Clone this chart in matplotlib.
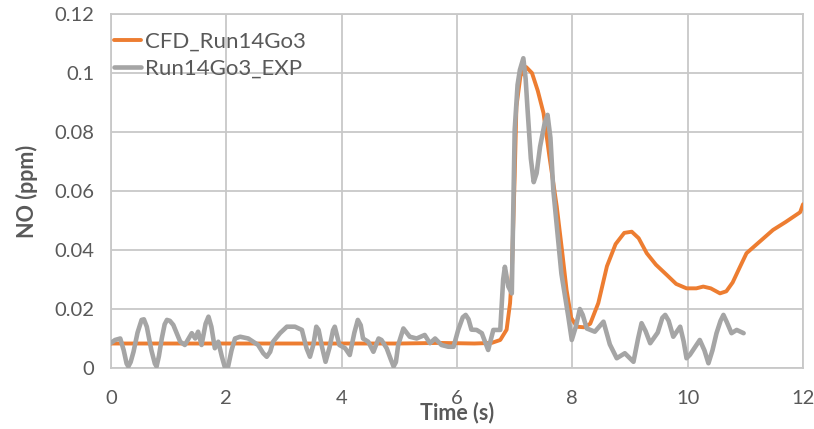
import matplotlib.pyplot as plt

# CFD prediction
cfd_t = [0, 1, 2, 3, 4, 5, 5.7, 6.3, 6.6, 6.75, 6.86, 6.92, 6.95, 7.0, 7.03, 7.1,
         7.2, 7.3, 7.4, 7.5, 7.6, 7.73, 7.82, 7.9, 7.98, 8.08, 8.2, 8.31, 8.45,
         8.6, 8.75, 8.9, 9.03, 9.15, 9.29, 9.45, 9.64, 9.8, 9.98, 10.15, 10.27,
         10.4, 10.56, 10.67, 10.78, 10.9, 11.02, 11.2, 11.48, 11.7, 11.95, 12]
cfd_no = [0.0083, 0.0083, 0.0083, 0.0083, 0.0083, 0.0083, 0.0085, 0.0083, 0.0085,
          0.0095, 0.013, 0.022, 0.032, 0.065, 0.0886, 0.099, 0.102, 0.100, 0.094,
          0.0864, 0.072, 0.0547, 0.040, 0.0264, 0.017, 0.014, 0.0138, 0.015, 0.022,
          0.0345, 0.042, 0.0458, 0.0462, 0.044, 0.0389, 0.035, 0.0315, 0.0285,
          0.027, 0.027, 0.0276, 0.027, 0.0253, 0.026, 0.029, 0.034, 0.0389, 0.042,
          0.0468, 0.0495, 0.0528, 0.0555]

# measured
exp_t = [0.0, 0.07, 0.16, 0.22, 0.27, 0.30, 0.34, 0.39, 0.46, 0.53, 0.57, 0.62,
         0.70, 0.76, 0.79, 0.83, 0.88, 0.93, 0.97, 1.02, 1.08, 1.2, 1.28, 1.40,
         1.46, 1.51, 1.57, 1.64, 1.69, 1.74, 1.80, 1.86, 1.92, 1.97, 2.03, 2.09,
         2.15, 2.24, 2.38, 2.55, 2.64, 2.70, 2.76, 2.81, 2.93, 3.05, 3.19, 3.31,
         3.39, 3.45, 3.51, 3.56, 3.60, 3.66, 3.72, 3.79, 3.85, 3.88, 3.96, 4.06,
         4.14, 4.22, 4.28, 4.33, 4.37, 4.46, 4.55, 4.64, 4.69, 4.78, 4.85, 4.90,
         4.94, 4.98, 5.07, 5.18, 5.30, 5.44, 5.53, 5.62, 5.73, 5.85, 5.94, 6.02,
         6.10, 6.15, 6.20, 6.25, 6.34, 6.43, 6.54, 6.63, 6.75, 6.80, 6.83, 6.89,
         6.95, 7.0, 7.05, 7.09, 7.15, 7.19, 7.22, 7.28, 7.33, 7.38, 7.44, 7.52,
         7.57, 7.62, 7.67, 7.81, 7.93, 7.99, 8.06, 8.13, 8.18, 8.25, 8.39, 8.54,
         8.65, 8.77, 8.91, 9.06, 9.14, 9.2, 9.27, 9.35, 9.48, 9.56, 9.61, 9.67,
         9.75, 9.87, 9.93, 9.98, 10.04, 10.21, 10.29, 10.36, 10.43, 10.5, 10.57,
         10.62, 10.68, 10.76, 10.85, 10.97]
exp_no = [0.0085, 0.0095, 0.010, 0.006, 0.0015, 0.0005, 0.002, 0.0055, 0.012,
          0.0163, 0.0165, 0.014, 0.006, 0.0015, 0.0005, 0.004, 0.010, 0.0148,
          0.0163, 0.016, 0.0146, 0.0089, 0.0078, 0.0118, 0.010, 0.0123, 0.0078,
          0.015, 0.0174, 0.014, 0.0067, 0.0089, 0.004, 0.0005, 0.0005, 0.006,
          0.010, 0.0106, 0.010, 0.0078, 0.005, 0.0038, 0.0055, 0.0089, 0.0118,
          0.014, 0.014, 0.0129, 0.0067, 0.0038, 0.008, 0.014, 0.0129, 0.007,
          0.0021, 0.007, 0.0128, 0.014, 0.0078, 0.0067, 0.0044, 0.012, 0.0163,
          0.0145, 0.010, 0.0089, 0.0055, 0.010, 0.0095, 0.0067, 0.003, 0.0005,
          0.002, 0.0078, 0.0134, 0.0106, 0.010, 0.0112, 0.0084, 0.010, 0.0078,
          0.0072, 0.0072, 0.0129, 0.0172, 0.018, 0.0165, 0.013, 0.0129, 0.0118,
          0.0061, 0.0129, 0.0129, 0.030, 0.0343, 0.0276, 0.0253, 0.0807, 0.096,
          0.101, 0.105, 0.098, 0.0886, 0.071, 0.063, 0.066, 0.075, 0.083, 0.0858,
          0.078, 0.0603, 0.032, 0.0174, 0.0095, 0.014, 0.020, 0.018, 0.0134,
          0.0123, 0.0157, 0.008, 0.0033, 0.005, 0.0021, 0.010, 0.0152, 0.0125,
          0.0084, 0.012, 0.017, 0.018, 0.016, 0.0106, 0.014, 0.009, 0.0033,
          0.0045, 0.0095, 0.006, 0.0016, 0.006, 0.0118, 0.016, 0.018, 0.0155,
          0.0118, 0.0129, 0.0118]

x_ticks = [0, 2, 4, 6, 8, 10, 12]
y_ticks = [0, 0.02, 0.04, 0.06, 0.08, 0.1, 0.12]
y_labels = ["0", "0.02", "0.04", "0.06", "0.08", "0.1", "0.12"]

plt.rcParams['font.family'] = ['Lato', 'DejaVu Sans']
txt = '#595959'
grid = '#c8c8c8'

fig = plt.figure(figsize=(8.14, 4.29), dpi=100)
ax = fig.add_axes([0.1364, 0.1422, 0.8501, 0.8252])

ax.plot(cfd_t, cfd_no, color='#ED7D31', lw=2.8, label='CFD_Run14Go3', zorder=3,
        solid_joinstyle='round', solid_capstyle='round')
ax.plot(exp_t, exp_no, color='#A5A5A5', lw=3.3, label='Run14Go3_EXP', zorder=4,
        solid_joinstyle='round', solid_capstyle='round')

ax.set_xlim(0, 12)
ax.set_ylim(0, 0.12)
ax.set_xticks(x_ticks)
ax.set_yticks(y_ticks)
ax.set_yticklabels(y_labels)
ax.tick_params(length=0, labelsize=14.5, colors=txt)
ax.tick_params(axis='x', pad=16)
ax.tick_params(axis='y', pad=12)
ax.grid(True, color=grid, lw=1.3)
ax.set_axisbelow(True)
for s in ax.spines.values():
    s.set_color(grid)
    s.set_linewidth(1.3)

ax.set_xlabel('Time (s)', fontsize=15.5, fontweight='bold', color=txt)
ax.xaxis.set_label_coords(0.5, -0.095)
ax.set_ylabel('NO (ppm)', fontsize=15.5, fontweight='bold', color=txt)
ax.yaxis.set_label_coords(-0.105, 0.5)

leg = ax.legend(loc='upper left', bbox_to_anchor=(-0.008, 0.975), frameon=False,
                fontsize=16, handlelength=1.2, handletextpad=0.2,
                labelspacing=0.3, borderaxespad=0)
for t in leg.get_texts():
    t.set_color(txt)

fig.savefig('out.png', dpi=100)
